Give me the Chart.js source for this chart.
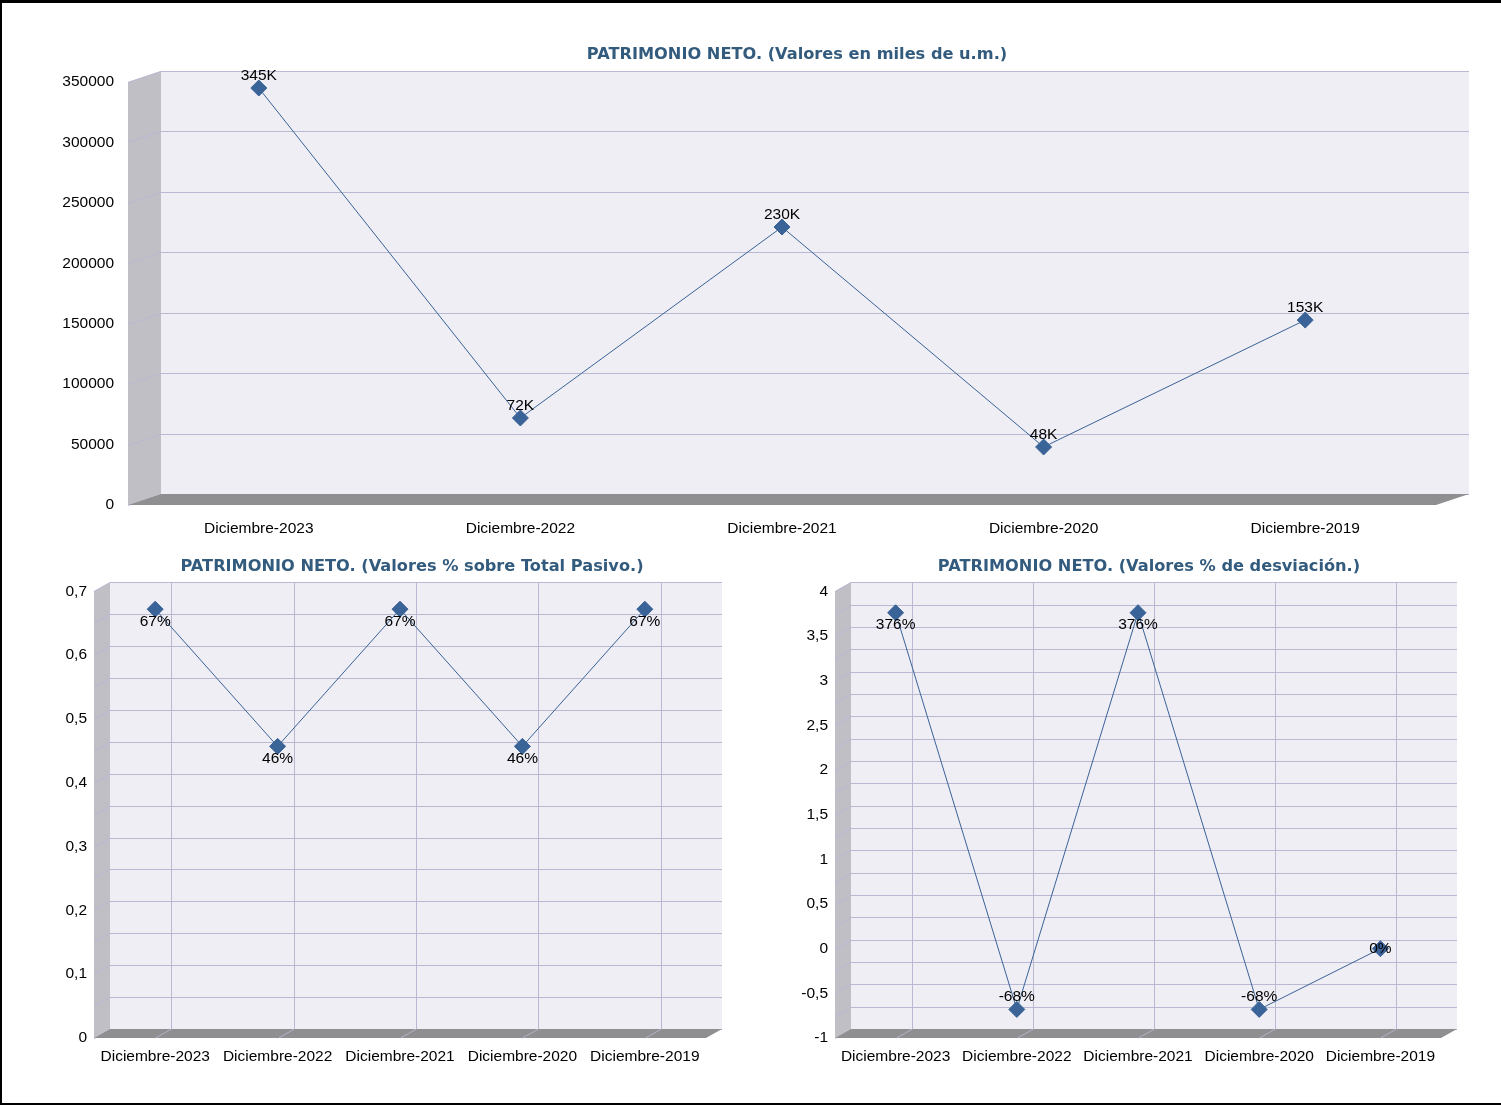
<!DOCTYPE html>
<html><head><meta charset="utf-8">
<script src="https://cdn.jsdelivr.net/npm/chart.js@4/dist/chart.umd.min.js"></script>
<style>
html,body{margin:0;padding:0;background:#fff;}
body{width:1501px;height:1105px;position:relative;overflow:hidden;font-family:"Liberation Sans",Arial,sans-serif;}
#frame{position:absolute;left:0;top:0;width:1501px;height:1105px;box-sizing:border-box;border-top:3px solid #000;border-left:2px solid #000;border-bottom:2px solid #000;}
.title{position:absolute;font-family:"DejaVu Sans",Verdana,sans-serif;font-weight:bold;font-size:16.2px;color:#335b7d;white-space:nowrap;transform:translate(-50%,-50%);}
canvas{position:absolute;}
</style></head>
<body>
<div id="frame"></div>
<canvas id="c1"></canvas>
<canvas id="c2"></canvas>
<canvas id="c3"></canvas>
<div class="title" style="left:797px;top:53px">PATRIMONIO NETO. (Valores en miles de u.m.)</div>
<div class="title" style="left:412px;top:565px">PATRIMONIO NETO. (Valores % sobre Total Pasivo.)</div>
<div class="title" style="left:1149px;top:565px">PATRIMONIO NETO. (Valores % de desviación.)</div>
<script>
const categories = ['Diciembre-2023','Diciembre-2022','Diciembre-2021','Diciembre-2020','Diciembre-2019'];
const patrimonioMiles = [345000, 72000, 230000, 48000, 153000];
const pctSobrePasivo = [0.672, 0.457, 0.672, 0.457, 0.672];
const pctDesviacion = [3.76, -0.68, 3.76, -0.68, 0];
const ticksMiles = [0, 50000, 100000, 150000, 200000, 250000, 300000, 350000];
const ticksPasivo = [0, 0.1, 0.2, 0.3, 0.4, 0.5, 0.6, 0.7];
const ticksDesv = [-1, -0.5, 0, 0.5, 1, 1.5, 2, 2.5, 3, 3.5, 4];

const FONT = '"Liberation Sans", Arial, sans-serif';
const FSIZE = 15.5;
const LINE = '#3a6397';
const GRID = '#b9b9d3';

function make(id, cfg) {
  const {box, area, dx, dy, values, ticks, gridDiv, vgrid, fmtTick, fmtLabel, labelDy, yTickPad, xTickPad} = cfg;
  const yMin = ticks[0], yMax = ticks[ticks.length-1], yStep = ticks[1]-ticks[0];
  const cv = document.getElementById(id);
  cv.style.left = box[0]+'px'; cv.style.top = box[1]+'px';
  cv.style.width = box[2]+'px'; cv.style.height = box[3]+'px';
  cv.width = box[2]; cv.height = box[3];

  const line = (ctx,x1,y1,x2,y2)=>{ctx.beginPath();ctx.moveTo(x1,y1);ctx.lineTo(x2,y2);ctx.stroke();};
  const poly = (ctx,pts)=>{ctx.beginPath();pts.forEach((p,i)=>i?ctx.lineTo(p[0],p[1]):ctx.moveTo(p[0],p[1]));ctx.closePath();ctx.fill();};

  const threeD = {
    id:'threeD',
    beforeDraw(chart){
      const ctx = chart.ctx, a = chart.chartArea, ys = chart.scales.y, xs = chart.scales.x;
      const L=a.left, R=a.right, T=a.top, B=a.bottom;
      ctx.save();
      ctx.fillStyle = '#efeef4';
      ctx.fillRect(L+dx, T+dy, R-L, B-T);
      ctx.fillStyle = '#c0bfc6';
      poly(ctx, [[L,T],[L+dx,T+dy],[L+dx,B+dy],[L,B]]);
      ctx.strokeStyle = GRID; ctx.lineWidth = 1;
      const n = Math.round((yMax-yMin)/yStep*gridDiv);
      for (let k=0;k<=n;k++){
        const v = yMin + k*yStep/gridDiv;
        const y = Math.round(ys.getPixelForValue(v))+0.5;
        line(ctx, L+dx, y+dy, R+dx, y+dy);
        line(ctx, L, y, L+dx, y+dy);
      }
      if (vgrid){
        for (let i=0;i<categories.length;i++){
          const x = Math.round(xs.getPixelForValue(i))+0.5;
          line(ctx, x+dx, T+dy, x+dx, B+dy);
        }
      }
      ctx.fillStyle = '#8f8f92';
      poly(ctx, [[L,B],[L+dx,B+dy],[R+dx,B+dy],[R,B]]);
      if (vgrid){
        ctx.strokeStyle = '#b3b3c8';
        for (let i=0;i<categories.length;i++){
          const x = Math.round(xs.getPixelForValue(i))+0.5;
          line(ctx, x, B, x+dx, B+dy);
        }
      }
      ctx.restore();
    }
  };
  const ptLabels = {
    id:'ptLabels',
    afterDatasetsDraw(chart){
      const ctx = chart.ctx, meta = chart.getDatasetMeta(0);
      ctx.save();
      ctx.font = FSIZE+'px '+FONT; ctx.fillStyle = '#000';
      ctx.textAlign = 'center'; ctx.textBaseline = 'middle';
      meta.data.forEach((p,i)=>ctx.fillText(fmtLabel(values[i]), p.x, p.y+labelDy[i]));
      ctx.restore();
    }
  };
  return new Chart(cv, {
    type:'line',
    data:{labels:categories, datasets:[{data:values, borderColor:LINE, borderWidth:1, backgroundColor:LINE,
      pointStyle:'rectRot', pointRadius:8, pointHoverRadius:8, pointBorderWidth:1,
      pointBackgroundColor:LINE, pointBorderColor:LINE, tension:0, clip:false}]},
    options:{
      responsive:false, animation:false, events:[],
      layout:{padding:{left:0, top:area[1]-box[1], right:box[0]+box[2]-area[2], bottom:0}},
      plugins:{legend:{display:false}, tooltip:{enabled:false}, title:{display:false}},
      scales:{
        x:{type:'category', offset:true, grid:{display:false, drawTicks:false}, border:{display:false},
           ticks:{padding:xTickPad, color:'#000', font:{family:FONT, size:FSIZE}, maxRotation:0, autoSkip:false},
           afterFit(s){ s.height = box[1]+box[3]-area[3]; }},
        y:{min:yMin, max:yMax, grid:{display:false, drawTicks:false}, border:{display:false},
           ticks:{stepSize:yStep, padding:yTickPad, color:'#000', font:{family:FONT, size:FSIZE}, callback:fmtTick},
           afterFit(s){ s.width = area[0]-box[0]; }}
      }
    },
    plugins:[threeD, ptLabels]
  });
}

const commaFmt = v => String(Math.round(v*100)/100).replace('.', ',');
const pctFmt = v => Math.round(v*100)+'%';

make('c1', {box:[0,0,1501,560], area:[128,82,1436,505], dx:33, dy:-11, values:patrimonioMiles,
  ticks:ticksMiles, gridDiv:1, vgrid:false, fmtTick:v=>String(v), fmtLabel:v=>Math.round(v/1000)+'K',
  labelDy:[-12,-12,-12,-12,-12], yTickPad:14, xTickPad:14});
make('c2', {box:[0,575,750,500], area:[94,589,706,1038], dx:16, dy:-9, values:pctSobrePasivo,
  ticks:ticksPasivo, gridDiv:2, vgrid:true, fmtTick:commaFmt, fmtLabel:pctFmt,
  labelDy:[13,12,13,12,13], yTickPad:7, xTickPad:9});
make('c3', {box:[760,575,741,500], area:[835,589,1441,1038], dx:16, dy:-9, values:pctDesviacion,
  ticks:ticksDesv, gridDiv:2, vgrid:true, fmtTick:commaFmt, fmtLabel:pctFmt,
  labelDy:[12,-13,12,-13,0], yTickPad:7, xTickPad:9});
</script>
</body></html>
